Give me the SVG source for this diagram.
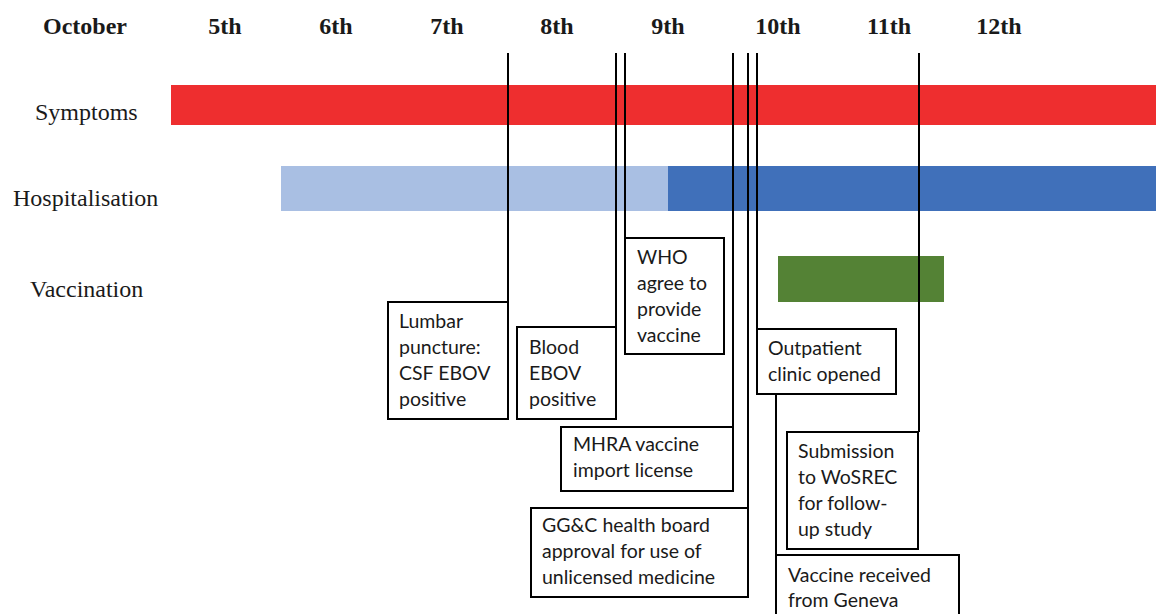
<svg xmlns="http://www.w3.org/2000/svg" width="1156" height="614" viewBox="0 0 1156 614">
<style>
.hd{font-family:"Liberation Serif","Times New Roman",serif;font-weight:bold;font-size:24px;fill:#1a1a1a}
.row{font-family:"Liberation Serif","Times New Roman",serif;font-size:24px;fill:#1a1a1a}
.box{fill:#fff;stroke:#000;stroke-width:2}
.lbl{font-family:Lato,"Open Sans",sans-serif;font-size:19.5px;fill:#1a1a1a}
.con{stroke:#000;stroke-width:2;fill:none}
</style>
<rect width="1156" height="614" fill="#fff"/>
<g id="header">
<text class="hd" x="43" y="34">October</text>
<text class="hd" x="225" y="34" text-anchor="middle">5th</text>
<text class="hd" x="336" y="34" text-anchor="middle">6th</text>
<text class="hd" x="447" y="34" text-anchor="middle">7th</text>
<text class="hd" x="557" y="34" text-anchor="middle">8th</text>
<text class="hd" x="668" y="34" text-anchor="middle">9th</text>
<text class="hd" x="778" y="34" text-anchor="middle">10th</text>
<text class="hd" x="889" y="34" text-anchor="middle">11th</text>
<text class="hd" x="999" y="34" text-anchor="middle">12th</text>
</g>
<g id="rows">
<text class="row" x="35" y="120">Symptoms</text>
<text class="row" x="13" y="206">Hospitalisation</text>
<text class="row" x="30" y="297">Vaccination</text>
</g>
<g id="bars">
<rect x="171" y="85" width="985" height="40" fill="#EE2E2F"/>
<rect x="281" y="166" width="387" height="45" fill="#A9BFE3"/>
<rect x="668" y="166" width="488" height="45" fill="#4070BA"/>
<rect x="778" y="256" width="166" height="46" fill="#548235"/>
</g>
<g id="connectors">
<line class="con" x1="508" y1="53" x2="508" y2="302"/>
<line class="con" x1="616" y1="53" x2="616" y2="327"/>
<line class="con" x1="625" y1="53" x2="625" y2="238"/>
<line class="con" x1="733" y1="53" x2="733" y2="437"/>
<line class="con" x1="748" y1="53" x2="748" y2="508"/>
<line class="con" x1="757" y1="53" x2="757" y2="329"/>
<line class="con" x1="919" y1="53" x2="919" y2="432"/>
<line class="con" x1="776" y1="394" x2="776" y2="555"/>
</g>
<g id="lumbar">
<rect class="box" x="388" y="302" width="120" height="117"/>
<text class="lbl" x="399" y="328">Lumbar</text>
<text class="lbl" x="399" y="354">puncture:</text>
<text class="lbl" x="399" y="380">CSF EBOV</text>
<text class="lbl" x="399" y="406">positive</text>
</g>
<g id="blood">
<rect class="box" x="517" y="327" width="99" height="92"/>
<text class="lbl" x="529" y="354">Blood</text>
<text class="lbl" x="529" y="380">EBOV</text>
<text class="lbl" x="529" y="406">positive</text>
</g>
<g id="who">
<rect class="box" x="625" y="238" width="99" height="116"/>
<text class="lbl" x="637" y="264">WHO</text>
<text class="lbl" x="637" y="290">agree to</text>
<text class="lbl" x="637" y="316">provide</text>
<text class="lbl" x="637" y="342">vaccine</text>
</g>
<g id="mhra">
<rect class="box" x="561" y="427" width="172" height="64"/>
<text class="lbl" x="573" y="451">MHRA vaccine</text>
<text class="lbl" x="573" y="477">import license</text>
</g>
<g id="ggc">
<rect class="box" x="531" y="508" width="217" height="89"/>
<text class="lbl" x="542" y="532">GG&amp;C health board</text>
<text class="lbl" x="542" y="558">approval for use of</text>
<text class="lbl" x="542" y="584">unlicensed medicine</text>
</g>
<g id="outpatient">
<rect class="box" x="757" y="329" width="139" height="65"/>
<text class="lbl" x="768" y="355">Outpatient</text>
<text class="lbl" x="768" y="381">clinic opened</text>
</g>
<g id="wosrec">
<rect class="box" x="787" y="432" width="131" height="117"/>
<text class="lbl" x="798" y="458">Submission</text>
<text class="lbl" x="798" y="484">to WoSREC</text>
<text class="lbl" x="798" y="510">for follow-</text>
<text class="lbl" x="798" y="536">up study</text>
</g>
<g id="vaccine">
<rect class="box" x="776" y="555" width="183" height="70"/>
<text class="lbl" x="788" y="582">Vaccine received</text>
<text class="lbl" x="788" y="607">from Geneva</text>
</g>
</svg>
